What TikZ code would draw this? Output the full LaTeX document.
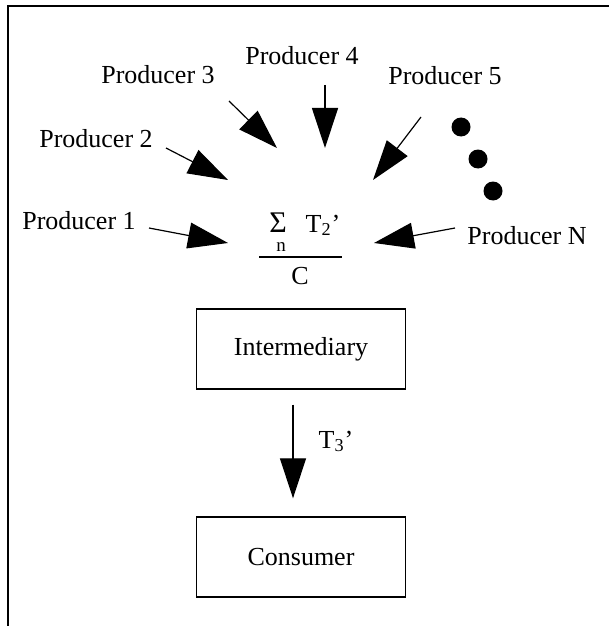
\documentclass[tikz,border=0pt]{standalone}
\usepackage{fontspec}
\setmainfont{Liberation Serif}
\usetikzlibrary{arrows.meta}
\usetikzlibrary{positioning}

\tikzset{
  lbl/.style={anchor=base,inner sep=0pt},
  box/.style={rectangle,draw,line width=0.7pt,minimum width=104.5pt,minimum height=40pt},
  flow/.style={-{Triangle[length=20pt,width=13pt]},line width=0.6pt},
  dot/.style={circle,fill,inner sep=0pt,minimum size=9.5pt}
}

\begin{document}
\begin{tikzpicture}[x={(0.5pt,0)},y={(0,-0.5pt)},font=\fontsize{13}{15}\selectfont]
\useasboundingbox (0,0) rectangle (609,626);
\draw[line width=1pt] (8,626) -- (8,6) -- (609,6);

% producers
\path (79,229) node[lbl](p1) {Producer 1}
(96,148) node[lbl](p2) {Producer 2}
(158,84) node[lbl](p3) {Producer 3}
(302,65) node[lbl](p4) {Producer 4}
(445,85) node[lbl](p5) {Producer 5}
(527,244) node[lbl](pN) {Producer N}
;
\node[dot] (d1) at (461,127) {};
\node[dot] (d2) at (478,159) {};
\node[dot] (d3) at (493,191) {};

% sum over producers
\node[lbl,font=\fontsize{15}{17}\selectfont] (sig) at (278,232) {Σ};
\node[lbl,font=\fontsize{9.5}{11}\selectfont] (n) at (281,251) {n};
\node[lbl] (t2) at (323,232) {T\textsubscript{2}’};
\coordinate (fl) at (259,257);
\coordinate (fr) at (342,257);
\draw[line width=0.8pt] (fl) -- (fr);
\node[lbl] (c) at (300,284) {C};

\coordinate (a1) at (149,228); \coordinate (b1) at (228,243);
\coordinate (a2) at (166,148); \coordinate (b2) at (228,180);
\coordinate (a3) at (229,101); \coordinate (b3) at (277,148);
\coordinate (a4) at (325,85);  \coordinate (b4) at (325,148);
\coordinate (a5) at (421,117); \coordinate (b5) at (373,180);
\coordinate (aN) at (455,228); \coordinate (bN) at (374,243);
\draw[flow] (a1) -- (b1);
\draw[flow] (a2) -- (b2);
\draw[flow] (a3) -- (b3);
\draw[flow] (a4) -- (b4);
\draw[flow] (a5) -- (b5);
\draw[flow] (aN) -- (bN);

% chain to consumer
\node[box] (inter) at (301,349) {Intermediary};
\node[box] (cons) at (301,557) {Consumer};
\draw[flow] ([xshift=-4pt,yshift=-7.5pt]inter.south) -- ([xshift=-4pt,yshift=9pt]cons.north);
\node[lbl] (t3) at (336,448) {T\textsubscript{3}’};

\end{tikzpicture}
\end{document}
